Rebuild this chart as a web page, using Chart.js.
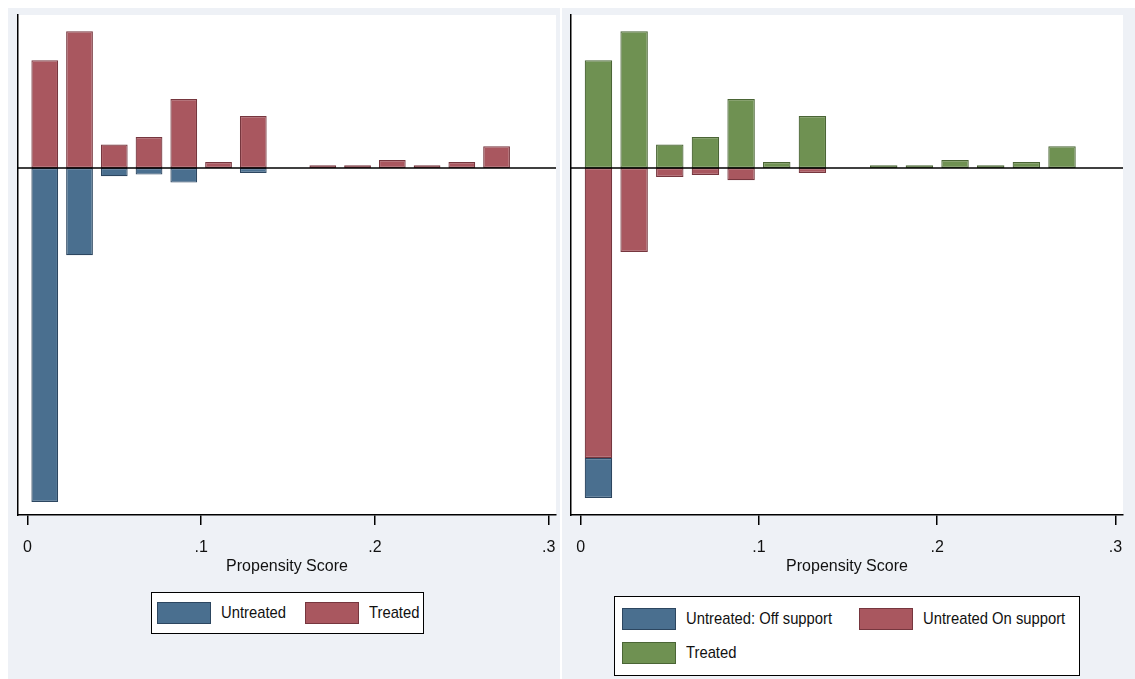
<!DOCTYPE html>
<html>
<head>
<meta charset="utf-8">
<script src="https://cdn.jsdelivr.net/npm/chart.js@4"></script>
<style>
body { margin: 0; background: #fff; width: 1135px; height: 679px; overflow: hidden; position: relative;
       font-family: 'Liberation Sans Narrow', 'Arial Narrow', 'Liberation Sans', sans-serif; }
.panel { position: absolute; top: 8px; height: 671px; background: #eef1f6; }
#leftPanel { left: 8px; width: 552px; }
#rightPanel { left: 562px; width: 573px; }
.panel canvas { position: absolute; left: 0; top: 0; }
.legend { position: absolute; background: #fff; border: 1.5px solid #000; box-sizing: border-box;
          font-size: 17px; color: #111; }
.item { display: flex; align-items: center; white-space: nowrap; }
.sw { width: 54px; height: 22px; box-sizing: border-box; border: 1.5px solid; margin-right: 10px; flex: none; }
.txt { display: inline-block; transform: scaleX(0.87); transform-origin: left center; }
#leftLegend { left: 143px; top: 584px; width: 273px; height: 42px; display: grid;
              grid-template-columns: 148px auto; align-items: center; padding-left: 5px; }
#rightLegend { left: 52px; top: 588px; width: 466px; height: 80px; display: grid;
               grid-template-columns: 237px auto; row-gap: 12px; align-content: center; padding-left: 7px; }
</style>
</head>
<body>
<div class="panel" id="leftPanel"><canvas id="leftChart" width="552" height="671"></canvas><div class="legend" id="leftLegend"></div></div>
<div class="panel" id="rightPanel"><canvas id="rightChart" width="573" height="671"></canvas><div class="legend" id="rightLegend"></div></div>
<script>
// histogram bins (width .02), heights
const binCenters = [0.01, 0.03, 0.05, 0.07, 0.09, 0.11, 0.13, 0.17, 0.19, 0.21, 0.23, 0.25, 0.27];
const treated = [10.77, 13.67, 2.34, 3.10, 6.90, 0.60, 5.20, 0.27, 0.27, 0.80, 0.27, 0.60, 2.17];
const untreated = [-33.4, -8.73, -0.83, -0.66, -1.46, 0, -0.50, 0, 0, 0, 0, 0, 0];
const untreatedOn = [-29.0, -8.4, -0.90, -0.70, -1.23, 0, -0.50, 0, 0, 0, 0, 0, 0];
const untreatedOff = [-4.0, 0, 0, 0, 0, 0, 0, 0, 0, 0, 0, 0, 0];
const xTicks = [0, 0.1, 0.2, 0.3];
const xTickLabels = ['0', '.1', '.2', '.3'];
const xMin = -0.0054, xMax = 0.3042;
const yMin = -34.7, yMax = 15.3;

const BLUE = ['#4a6f8f', '#2c4660'];
const RED = ['#a9575f', '#76363e'];
const GREEN = ['#6f9152', '#4a6535'];
const font = { family: "'Liberation Sans Narrow', 'Arial Narrow', 'Liberation Sans', sans-serif", size: 16 };

function series(label, values, colors) {
    return {
        label: label,
        data: binCenters.map((x, i) => ({ x: x, y: values[i] === 0 ? null : values[i] })),
        backgroundColor: colors[0],
        borderColor: colors[1]
    };
}

const plotBg = {
    id: 'plotBg',
    beforeDraw(chart) {
        const a = chart.chartArea, ctx = chart.ctx;
        ctx.save();
        ctx.fillStyle = '#fff';
        ctx.fillRect(a.left, a.top, a.right - a.left, a.bottom - a.top);
        ctx.restore();
    }
};

const zeroLine = {
    id: 'zeroLine',
    afterDatasetsDraw(chart) {
        const a = chart.chartArea, ctx = chart.ctx;
        const y = chart.scales.y.getPixelForValue(0);
        ctx.save();
        ctx.strokeStyle = '#000';
        ctx.lineWidth = 1.5;
        ctx.beginPath();
        ctx.moveTo(a.left, y);
        ctx.lineTo(a.right, y);
        ctx.stroke();
        ctx.restore();
    }
};

function makePanel(canvasId, datasets, pad) {
    return new Chart(document.getElementById(canvasId), {
        type: 'bar',
        data: { datasets: datasets },
        options: {
            responsive: false,
            animation: false,
            layout: { padding: pad },
            plugins: { legend: { display: false }, tooltip: { enabled: false } },
            datasets: { bar: { barPercentage: 0.77, categoryPercentage: 1, borderWidth: 1.2,
                               borderSkipped: false, inflateAmount: 0 } },
            scales: {
                x: {
                    type: 'linear', stacked: true, min: xMin, max: xMax, offset: false,
                    afterBuildTicks: s => { s.ticks = xTicks.map(v => ({ value: v })); },
                    // fixed axis box, no label overhang padding
                    afterFit: s => { s.height = 61; s.paddingLeft = 0; s.paddingRight = 0; },
                    ticks: { callback: (v, i) => xTickLabels[i], font: font, color: '#111', padding: 13,
                             maxRotation: 0, autoSkip: false },
                    grid: { offset: false, drawOnChartArea: false, color: '#000', tickLength: 10, lineWidth: 1.5 },
                    border: { color: '#000', width: 1.5 },
                    title: { display: true, text: 'Propensity Score', font: font, color: '#111',
                             padding: { top: 0, bottom: 0 } }
                },
                y: {
                    stacked: true, min: yMin, max: yMax,
                    ticks: { display: false },
                    grid: { display: false, drawTicks: false },
                    border: { display: true, color: '#000', width: 1.5 },
                    afterFit: s => { s.width = 0; }
                }
            }
        },
        plugins: [plotBg, zeroLine]
    });
}

function buildLegend(id, items) {
    const box = document.getElementById(id);
    items.forEach(ds => {
        const item = document.createElement('div');
        item.className = 'item';
        const sw = document.createElement('span');
        sw.className = 'sw';
        sw.style.background = ds.backgroundColor;
        sw.style.borderColor = ds.borderColor;
        const txt = document.createElement('span');
        txt.className = 'txt';
        txt.textContent = ds.label;
        item.appendChild(sw);
        item.appendChild(txt);
        box.appendChild(item);
    });
}

// left: untreated vs treated
const lTreated = series('Treated', treated, RED);
const lUntreated = series('Untreated', untreated, BLUE);
makePanel('leftChart', [lTreated, lUntreated], { left: 10, top: 7, right: 4, bottom: 103 });
buildLegend('leftLegend', [lUntreated, lTreated]);

// right: untreated split by common support
const rTreated = series('Treated', treated, GREEN);
const rOn = series('Untreated On support', untreatedOn, RED);
const rOff = series('Untreated: Off support', untreatedOff, BLUE);
makePanel('rightChart', [rTreated, rOn, rOff], { left: 9, top: 7, right: 12, bottom: 103 });
buildLegend('rightLegend', [rOff, rOn, rTreated]);
</script>
</body>
</html>
